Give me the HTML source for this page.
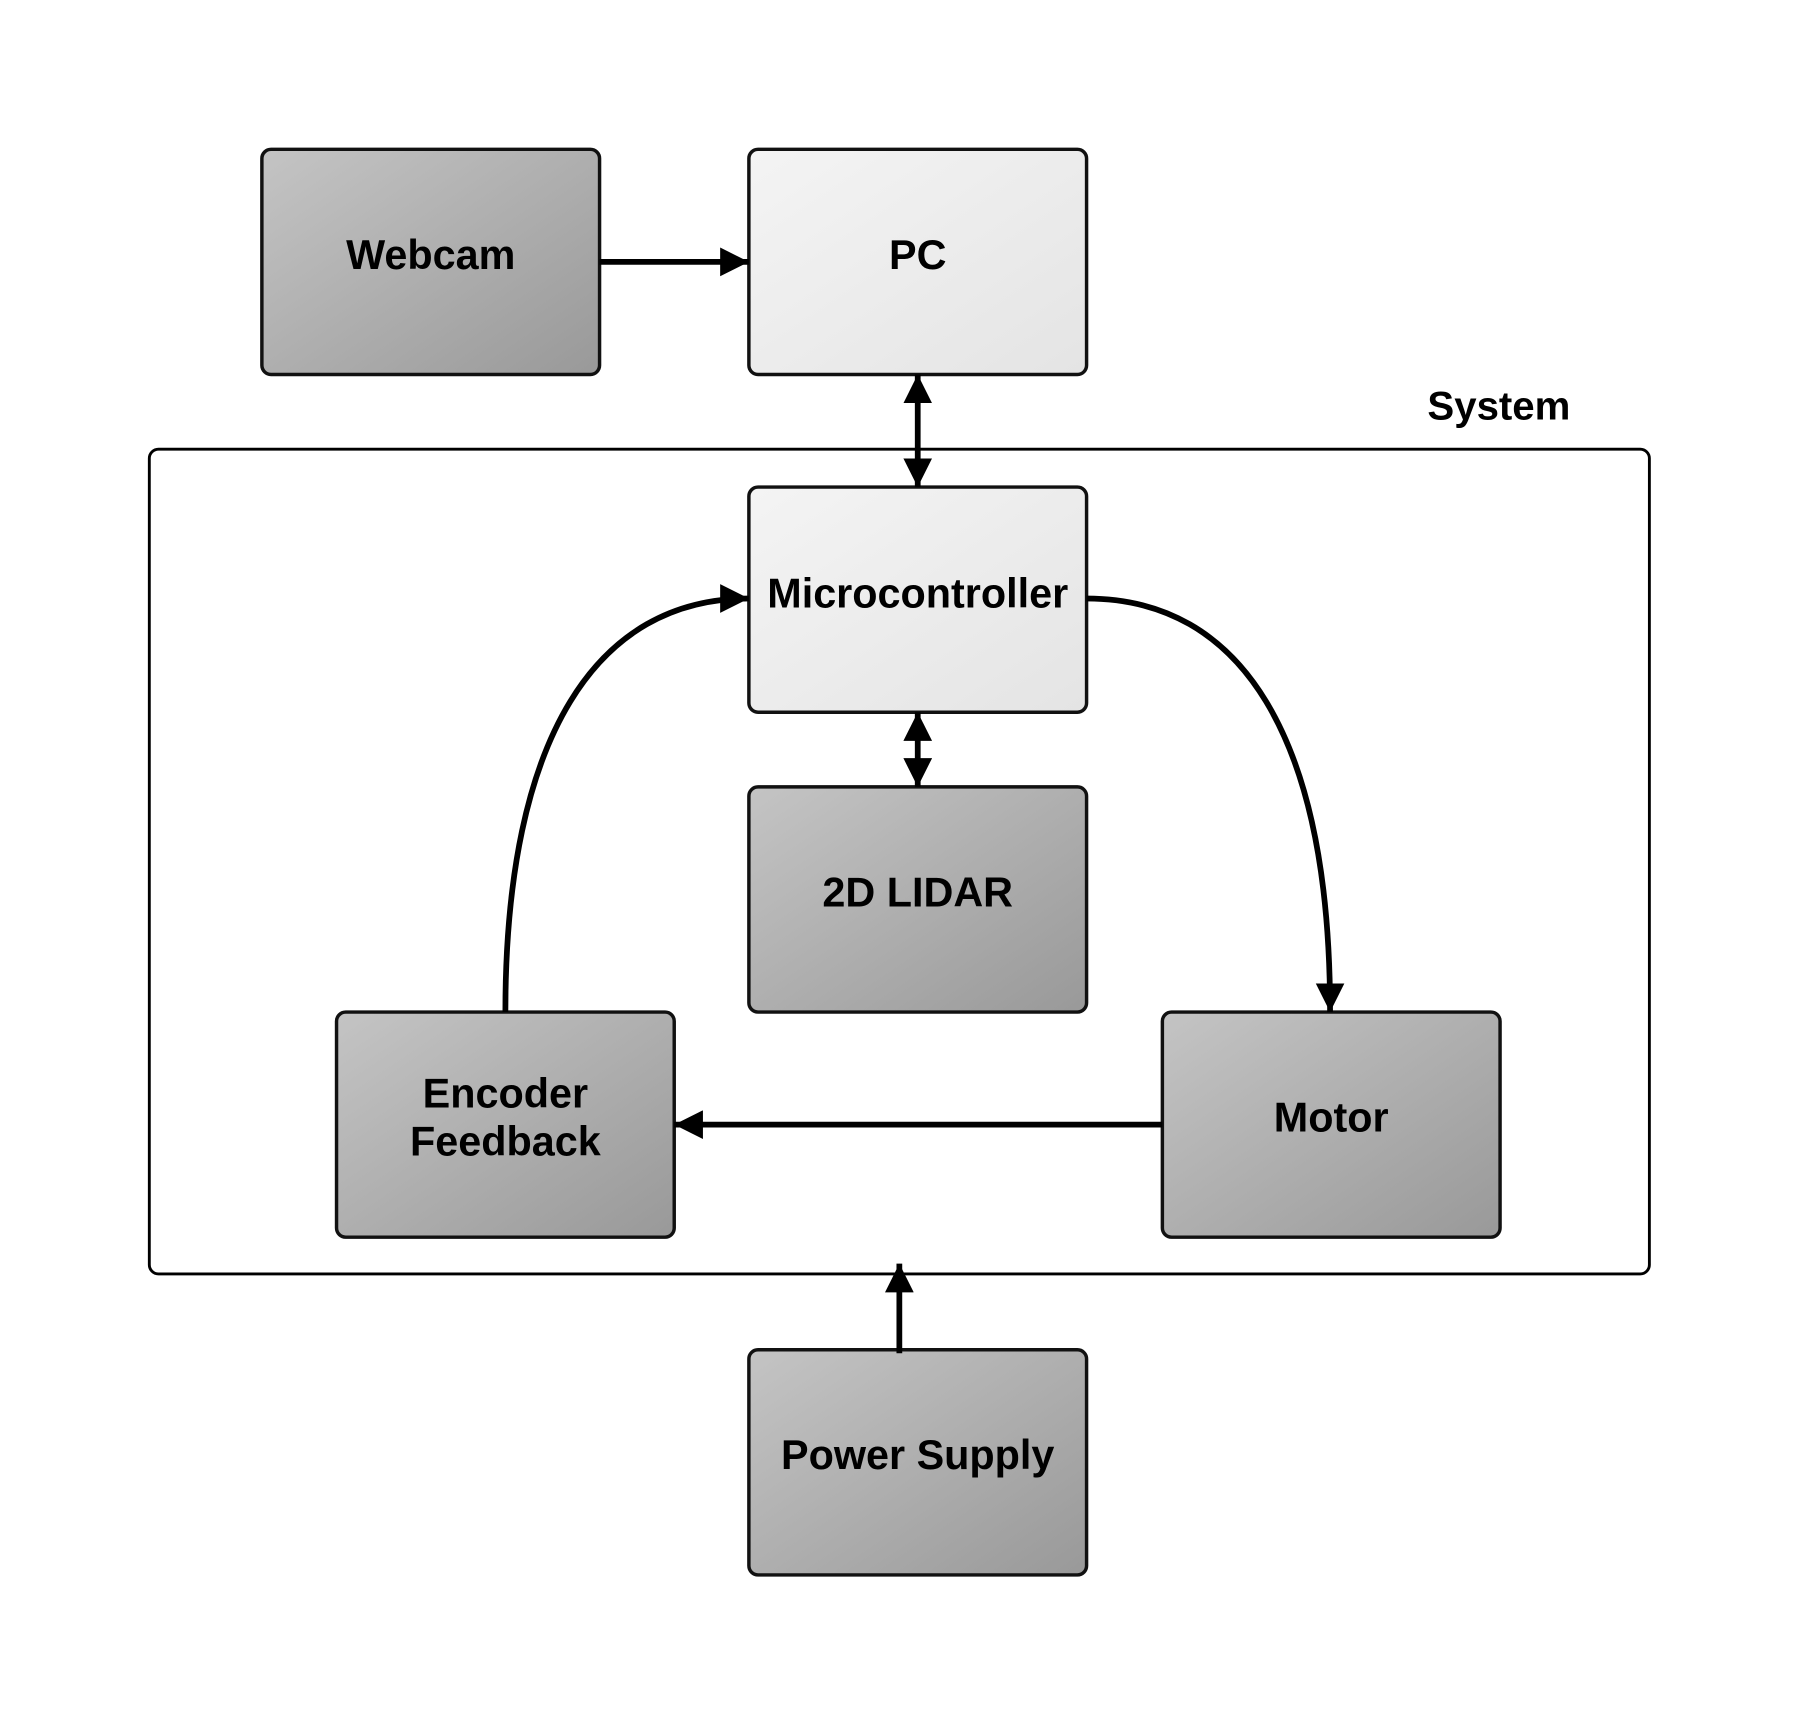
<!DOCTYPE html>
<html><head><meta charset="utf-8"><style>html,body{margin:0;padding:0;background:#fff}svg{display:block}</style></head>
<body>
<svg width="1801" height="1730" viewBox="0 0 1568 1506" preserveAspectRatio="none" xmlns="http://www.w3.org/2000/svg" font-family="Liberation Sans, sans-serif" font-weight="bold">
<defs>
<linearGradient id="d" x1="0" y1="0" x2="1" y2="1"><stop offset="0" stop-color="#c4c4c4"/><stop offset="1" stop-color="#999"/></linearGradient>
<linearGradient id="l" x1="0" y1="0" x2="1" y2="1"><stop offset="0" stop-color="#f4f4f4"/><stop offset="1" stop-color="#e4e4e4"/></linearGradient>
<marker id="a" viewBox="0 0 10 10" refX="10" refY="5" markerWidth="5" markerHeight="5" orient="auto-start-reverse" markerUnits="strokeWidth"><path d="M0,0 L10,5 L0,10 z" fill="#000"/></marker>
</defs>
<rect x="130" y="391" width="1306" height="718" rx="8" fill="#fff" stroke="#000" stroke-width="2.5"/>
<text x="1305" y="365" font-size="35" text-anchor="middle">System</text>
<g stroke="#111" stroke-width="3">
<rect x="228" y="130" width="294" height="196" rx="8" fill="url(#d)"/>
<rect x="652" y="130" width="294" height="196" rx="8" fill="url(#l)"/>
<rect x="652" y="424" width="294" height="196" rx="8" fill="url(#l)"/>
<rect x="652" y="685" width="294" height="196" rx="8" fill="url(#d)"/>
<rect x="293" y="881" width="294" height="196" rx="8" fill="url(#d)"/>
<rect x="1012" y="881" width="294" height="196" rx="8" fill="url(#d)"/>
<rect x="652" y="1175" width="294" height="196" rx="8" fill="url(#d)"/>
</g>
<g font-size="36" text-anchor="middle" fill="#000">
<text x="375" y="234">Webcam</text>
<text x="799" y="234">PC</text>
<text x="799" y="529">Microcontroller</text>
<text x="799" y="789">2D LIDAR</text>
<text x="440" y="964">Encoder</text>
<text x="440" y="1006">Feedback</text>
<text x="1159" y="985">Motor</text>
<text x="799" y="1279">Power Supply</text>
</g>
<g stroke="#000" stroke-width="5" fill="none" marker-end="url(#a)">
<path d="M522,228 L652,228"/>
<path d="M799,326 L799,424" marker-start="url(#a)"/>
<path d="M799,620 L799,685" marker-start="url(#a)"/>
<path d="M946,521 C1080,521 1158,640 1158,881"/>
<path d="M440,881 C440,640 520,521 652,521"/>
<path d="M1012,979 L587,979"/>
<path d="M783,1178 L783,1100"/>
</g>
</svg>
</body></html>
